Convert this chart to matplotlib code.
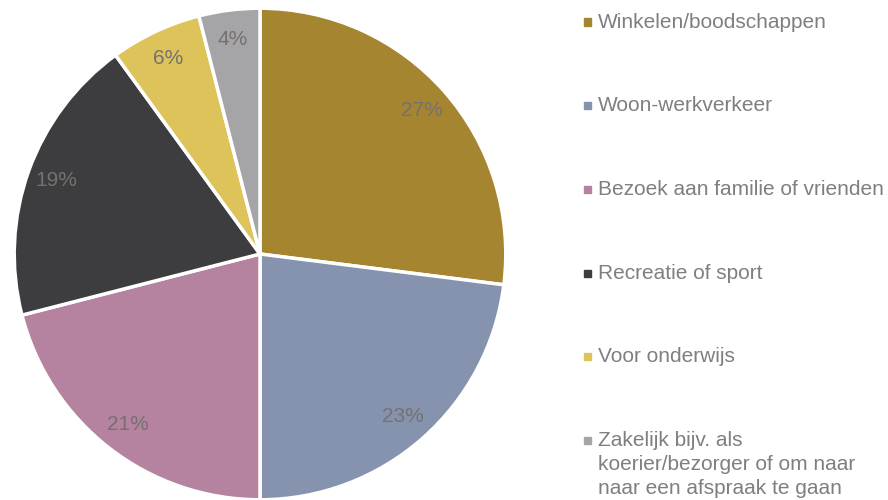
import matplotlib.pyplot as plt

# reisdoel aandelen (%)
categories = [
    "Winkelen/boodschappen",
    "Woon-werkverkeer",
    "Bezoek aan familie of vrienden",
    "Recreatie of sport",
    "Voor onderwijs",
    "Zakelijk bijv. als\nkoerier/bezorger of om naar\nnaar een afspraak te gaan",
]
shares = [27, 23, 21, 19, 6, 4]
colors = ["#A5852F", "#8593AE", "#B5829F", "#3D3C3F", "#DEC35A", "#A5A5A7"]

plt.rcParams['font.family'] = ['Liberation Sans', 'DejaVu Sans']

fig = plt.figure(figsize=(8.88, 5), dpi=100)
ax = fig.add_axes([13 / 888, -1 / 500, 494 / 888, 494 / 500])

wedges, texts, autotexts = ax.pie(
    shares, colors=colors, startangle=90, counterclock=False,
    autopct='%1.0f%%', pctdistance=0.88,
    wedgeprops=dict(edgecolor='white', linewidth=2.5),
    textprops=dict(color='#767171', fontsize=15),
)
ax.set_xlim(-1.005, 1.005)
ax.set_ylim(-1.005, 1.005)
ax.set_aspect('equal')

# legenda rechts
y_pos = [22, 105, 189, 273, 356, 440]
for lab, col, y in zip(categories, colors, y_pos):
    yf = 1 - y / 500
    fig.patches.append(plt.Rectangle((584 / 888, yf - 3.5 / 500), 7 / 888, 7 / 500,
                                     transform=fig.transFigure, color=col))
    fig.text(598 / 888, yf + 9 / 500, lab, fontsize=15, color='#7F7F7F',
             va='top', ha='left', linespacing=1.32)

fig.savefig("out.png", dpi=100)
